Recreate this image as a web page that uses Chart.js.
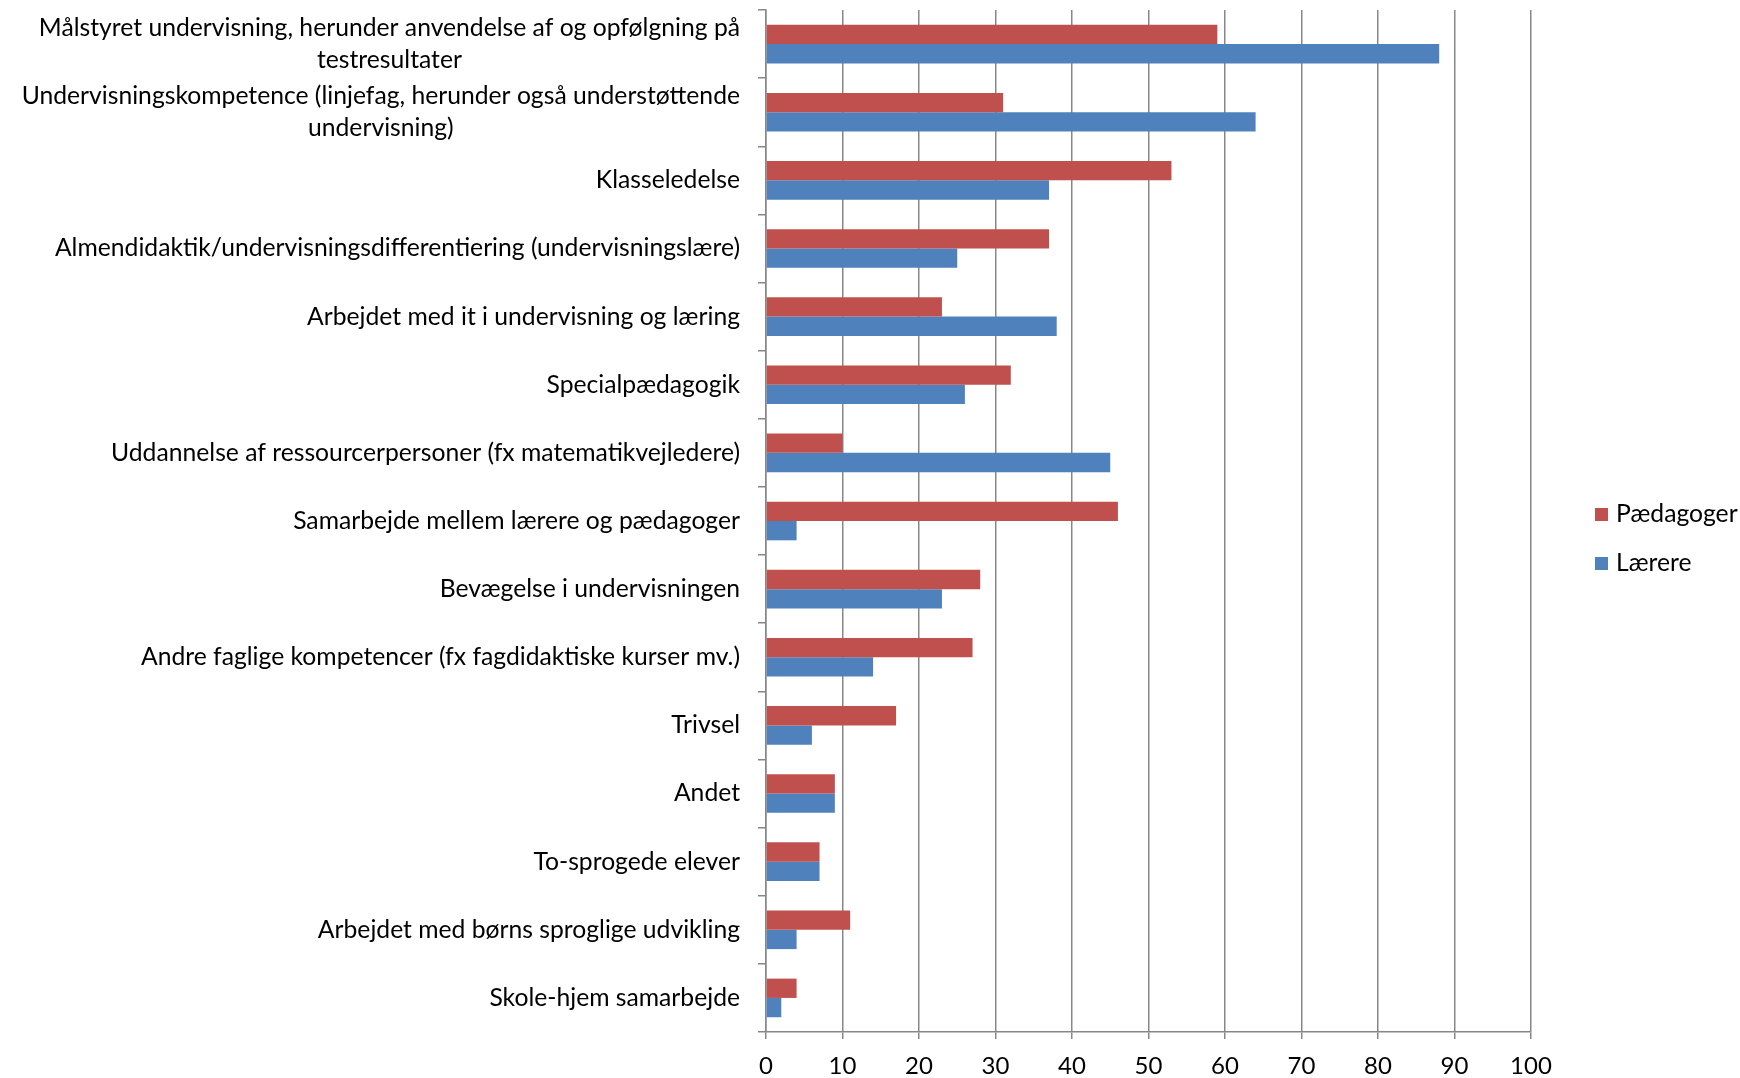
<!DOCTYPE html>
<html>
<head>
<meta charset="utf-8">
<script src="https://cdn.jsdelivr.net/npm/chart.js@4.4.0/dist/chart.umd.min.js"></script>
<style>
  html, body { margin: 0; padding: 0; background: #fff; }
  #wrap { width: 1740px; height: 1078px; }
</style>
</head>
<body>
<div id="wrap"><canvas id="chart" width="1740" height="1078"></canvas></div>
<script>
// kategorier (top -> bund)
const categories = [
  ['Målstyret undervisning, herunder anvendelse af og opfølgning på', 'testresultater'],
  ['Undervisningskompetence (linjefag, herunder også understøttende', 'undervisning)'],
  'Klasseledelse',
  'Almendidaktik/undervisningsdifferentiering (undervisningslære)',
  'Arbejdet med it i undervisning og læring',
  'Specialpædagogik',
  'Uddannelse af ressourcerpersoner (fx matematikvejledere)',
  'Samarbejde mellem lærere og pædagoger',
  'Bevægelse i undervisningen',
  'Andre faglige kompetencer (fx fagdidaktiske kurser mv.)',
  'Trivsel',
  'Andet',
  'To-sprogede elever',
  'Arbejdet med børns sproglige udvikling',
  'Skole-hjem samarbejde'
];
const seriesNames = ['Pædagoger', 'Lærere'];
const paedagoger = [59, 31, 53, 37, 23, 32, 10, 46, 28, 27, 17, 9, 7, 11, 4];
const laerere = [88, 64, 37, 25, 38, 26, 45, 4, 23, 14, 6, 9, 7, 4, 2];
const xTicks = [0, 10, 20, 30, 40, 50, 60, 70, 80, 90, 100];

const RED = '#C0504D';
const BLUE = '#4F81BD';
const GRID = '#878787';
const FONT_FAMILY = 'Lato, "Open Sans", sans-serif';
const FONT_SIZE = 24.7;
const LINE_H = 32;

// y-akse tekster: linjer centreret mod hinanden, blokken højrestillet
const yLabelPlugin = {
  id: 'yLabels',
  afterDraw(chart) {
    const ctx = chart.ctx;
    const y = chart.scales.y;
    ctx.save();
    ctx.font = FONT_SIZE + 'px ' + FONT_FAMILY;
    ctx.fillStyle = '#000';
    ctx.textBaseline = 'middle';
    ctx.textAlign = 'center';
    const right = y.right - 26;
    categories.forEach((label, i) => {
      const lines = Array.isArray(label) ? label : [label];
      const cy = y.getPixelForValue(i);
      const w = Math.max(...lines.map(l => ctx.measureText(l).width));
      lines.forEach((l, j) => {
        ctx.fillText(l, right - w / 2, cy + (j - (lines.length - 1) / 2) * LINE_H);
      });
    });
    ctx.restore();
  }
};

// legende til højre
const legendPlugin = {
  id: 'sideLegend',
  afterDraw(chart) {
    const ctx = chart.ctx;
    const area = chart.chartArea;
    const x0 = area.right + 64;
    const cy = chart.height / 2;
    ctx.save();
    ctx.font = FONT_SIZE + 'px ' + FONT_FAMILY;
    ctx.textBaseline = 'middle';
    ctx.textAlign = 'left';
    chart.data.datasets.forEach((ds, i) => {
      const y = cy - 24.5 + i * 49;
      ctx.fillStyle = ds.backgroundColor;
      ctx.fillRect(x0, y - 6.5, 13, 13);
      ctx.fillStyle = '#000';
      ctx.fillText(ds.label, x0 + 21, y);
    });
    ctx.restore();
  }
};

new Chart(document.getElementById('chart').getContext('2d'), {
  type: 'bar',
  data: {
    labels: categories,
    datasets: [
      { label: seriesNames[0], data: paedagoger, backgroundColor: RED, categoryPercentage: 0.567, barPercentage: 1 },
      { label: seriesNames[1], data: laerere, backgroundColor: BLUE, categoryPercentage: 0.567, barPercentage: 1 }
    ]
  },
  options: {
    indexAxis: 'y',
    responsive: false,
    animation: false,
    layout: { padding: { top: 10, right: 209, left: 0, bottom: 0 } },
    plugins: {
      legend: { display: false },
      tooltip: { enabled: false }
    },
    scales: {
      x: {
        min: 0,
        max: 100,
        afterBuildTicks: (scale) => { scale.ticks = xTicks.map(v => ({ value: v })); },
        afterFit: (scale) => { scale.height = 46; },
        grid: { color: GRID, lineWidth: 1.5, tickLength: 7 },
        border: { color: GRID, width: 1.5 },
        ticks: { color: '#000', padding: 13, font: { family: FONT_FAMILY, size: 24 } }
      },
      y: {
        afterFit: (scale) => { scale.width = 766; },
        grid: { drawOnChartArea: false, color: GRID, lineWidth: 1.5, tickLength: 8 },
        border: { color: GRID, width: 1.5 },
        ticks: { display: false }
      }
    }
  },
  plugins: [yLabelPlugin, legendPlugin]
});
</script>
</body>
</html>
